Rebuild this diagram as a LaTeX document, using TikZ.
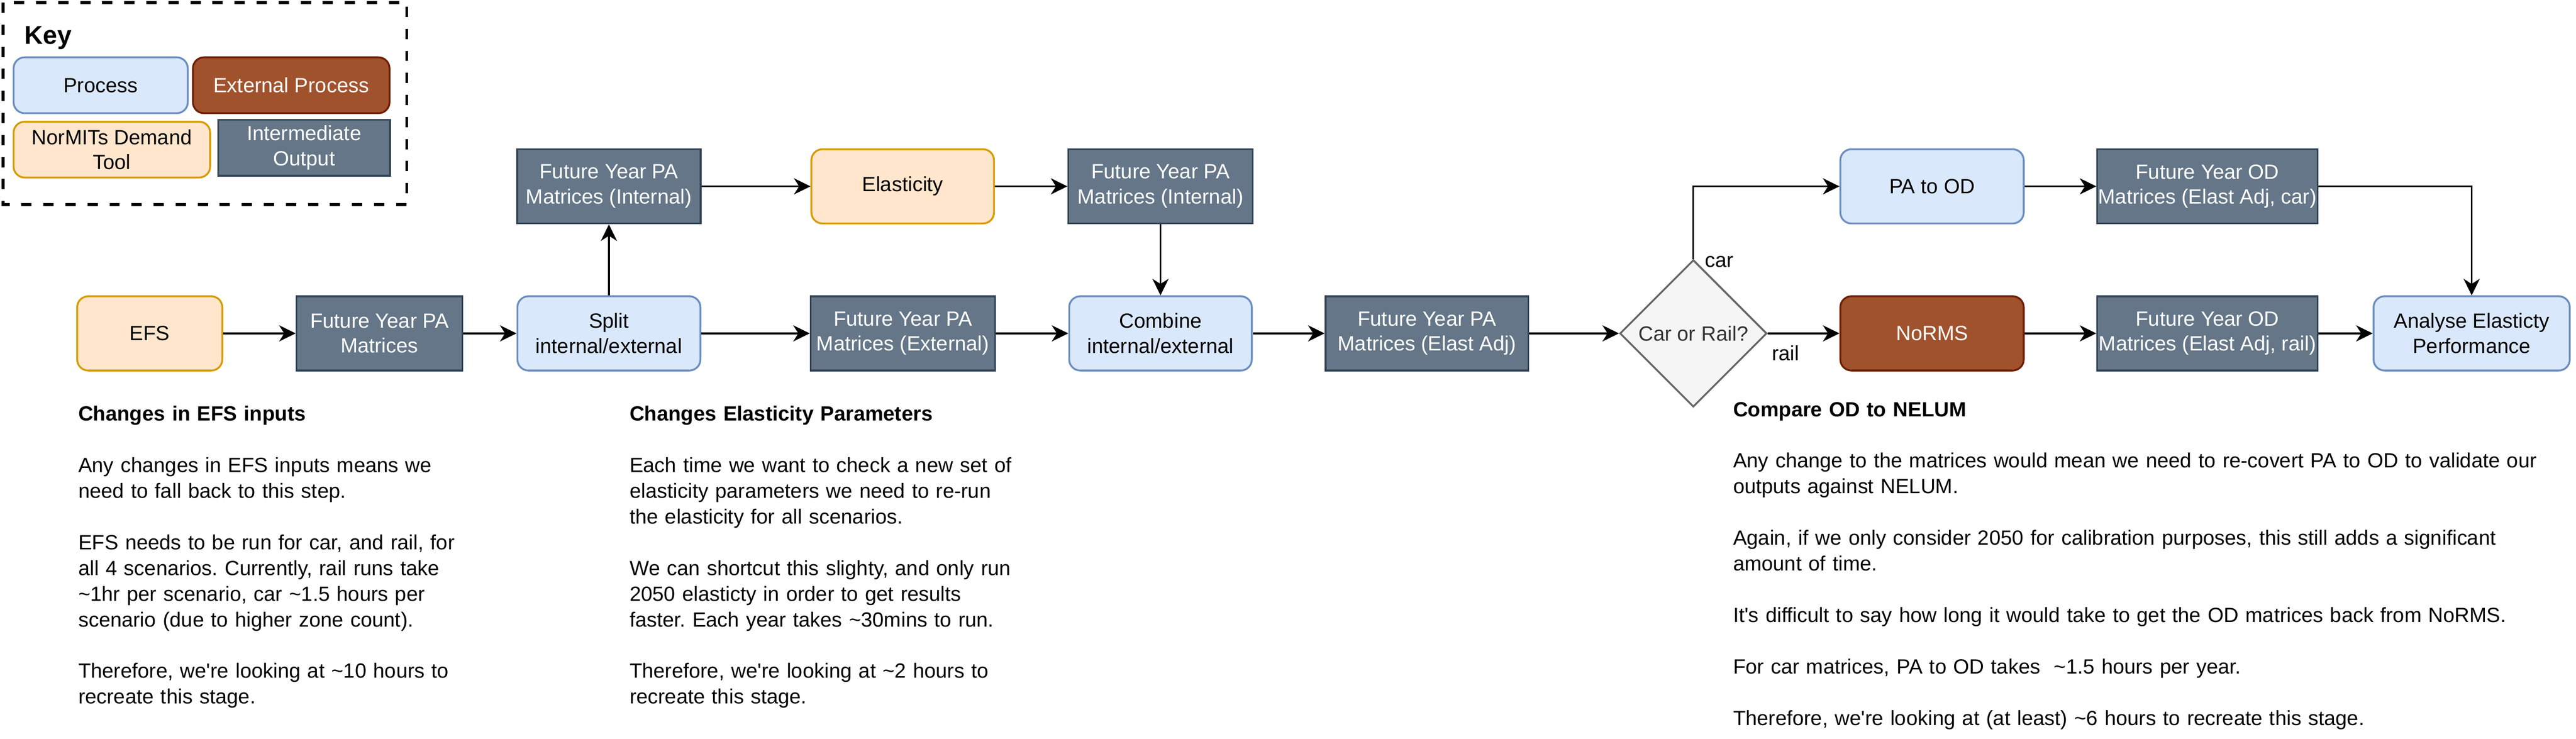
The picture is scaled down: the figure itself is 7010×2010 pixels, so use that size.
\documentclass[tikz,border=0pt]{standalone}
\usepackage{fontspec}
\setmainfont{Liberation Sans}
\usetikzlibrary{arrows.meta,shapes.geometric}
\frenchspacing

\definecolor{procfill}{HTML}{DAE8FC}
\definecolor{procdraw}{HTML}{6C8EBF}
\definecolor{toolfill}{HTML}{FFE6CC}
\definecolor{tooldraw}{HTML}{D79B00}
\definecolor{extfill}{HTML}{A0522D}
\definecolor{extdraw}{HTML}{6D1F00}
\definecolor{outfill}{HTML}{647687}
\definecolor{outdraw}{HTML}{314354}
\definecolor{decfill}{HTML}{F5F5F5}
\definecolor{decdraw}{HTML}{666666}
\definecolor{dectext}{HTML}{333333}

\newcommand\diagfont{\fontsize{5.6pt}{6.8pt}\selectfont}
\newcommand\notefont{\fontsize{5.6pt}{7pt}\selectfont}

\tikzset{every picture/.style={line width=0.45pt}}
\tikzset{
  basebox/.style={minimum height=20.2pt, inner sep=0pt, align=center, font=\diagfont, line width=0.5pt},
  procbox/.style={basebox, rounded corners=3pt, fill=procfill, draw=procdraw},
  toolbox/.style={basebox, rounded corners=3pt, fill=toolfill, draw=tooldraw},
  extbox/.style={basebox, rounded corners=3pt, fill=extfill, draw=extdraw, text=white},
  outbox/.style={basebox, fill=outfill, draw=outdraw, text=white},
  keysize/.style={minimum height=15.2pt},
  decbox/.style={diamond, aspect=1, minimum width=40pt, minimum height=40pt, inner sep=0pt, fill=decfill, draw=decdraw, text=dectext, font=\diagfont, line width=0.5pt},
  flow/.style={-{Stealth[length=4.5pt,width=4.4pt,inset=1.4pt]}, line width=0.45pt},
  edgelbl/.style={inner sep=0pt, font=\diagfont},
  notetext/.style={anchor=base west, inner sep=0pt, align=left, font=\notefont}
}

\begin{document}
\begin{tikzpicture}[x=0.1pt,y=0.1pt,yscale=-1,xscale=1]
\path[use as bounding box] (0,0) rectangle (7010,2010);

%Shape: Key frame
\draw[line width=0.8pt, dash pattern=on 2.8pt off 3.2pt] (8,7) rectangle (1107,557);
\node[inner sep=0pt, anchor=base west, font=\bfseries\fontsize{7pt}{8pt}\selectfont] (keytitle) at (64,120) {Key};
%Shape: Key entries
\node[procbox, keysize, minimum width=47.4pt] (kproc) at (274,232) {Process};
\node[extbox, keysize, minimum width=53.5pt] (kext) at (792.5,232) {External Process};
\node[toolbox, keysize, minimum width=53.5pt] (ktool) at (304.5,407) {NorMITs Demand\\Tool};
\node[outbox, keysize, minimum width=46.7pt] (kout) at (827.5,402) {Intermediate\\Output};

%Shape: Flow boxes
\node[toolbox, minimum width=39.5pt] (efs) at (407.5,907) {EFS};
\node[outbox, minimum width=45.1pt] (fypa) at (1032.5,907) {Future Year PA\\Matrices};
\node[procbox, minimum width=49.8pt] (split) at (1657,907) {Split\\internal/external};
\node[outbox, minimum width=49.9pt] (fypaint) at (1657,507) {Future Year PA\\Matrices (Internal)};
\node[toolbox, minimum width=49.7pt] (elast) at (2456.5,507) {Elasticity};
\node[outbox, minimum width=50.2pt] (fypaintb) at (3158,507) {Future Year PA\\Matrices (Internal)};
\node[outbox, minimum width=50.2pt] (fypaext) at (2457,907) {Future Year PA\\Matrices (External)};
\node[procbox, minimum width=49.7pt] (combine) at (3158,907) {Combine\\internal/external};
\node[outbox, minimum width=55.2pt] (fypaadj) at (3883,907) {Future Year PA\\Matrices (Elast Adj)};
\node[decbox] (choice) at (4608,907) {Car or Rail?};
\node[procbox, minimum width=49.9pt] (patood) at (5257.5,507) {PA to OD};
\node[outbox, minimum width=60pt] (fyodcar) at (6007,507) {Future Year OD\\Matrices (Elast Adj, car)};
\node[extbox, minimum width=49.9pt] (norms) at (5257.5,907) {NoRMS};
\node[outbox, minimum width=60pt] (fyodrail) at (6007,907) {Future Year OD\\Matrices (Elast Adj, rail)};
\node[procbox, minimum width=53.4pt] (analyse) at (6726,907) {Analyse Elasticty\\Performance};

%Straight Lines
\draw[flow] (efs) -- (fypa);
\draw[flow] (fypa) -- (split);
\draw[flow] (split) -- (fypaint);
\draw[flow] (split) -- (fypaext);
\draw[flow] (fypaint) -- (elast);
\draw[flow] (elast) -- (fypaintb);
\draw[flow] (fypaintb) -- (combine);
\draw[flow] (fypaext) -- (combine);
\draw[flow] (combine) -- (fypaadj);
\draw[flow] (fypaadj) -- (choice);
\draw[flow] (choice.north) |- (patood);
\draw[flow] (choice) -- (norms);
\draw[flow] (patood) -- (fyodcar);
\draw[flow] (norms) -- (fyodrail);
\draw[flow] (fyodrail) -- (analyse);
\draw[flow] (fyodcar) -| (analyse);
\node[edgelbl, anchor=base west] (carlbl) at ([xshift=3pt,yshift=2.3pt]choice.north) {car};
\node[edgelbl, anchor=base west] (raillbl) at ([xshift=0.9pt,yshift=7.3pt]choice.east) {rail};

%Text: notes
\node[notetext, text width=120pt] (efsnote) at (211,1145) {\textbf{Changes in EFS inputs}\\[7pt]
Any changes in EFS inputs means we\\
need to fall back to this step.\\[7pt]
EFS needs to be run for car, and rail, for\\
all 4 scenarios. Currently, rail runs take\\
\textasciitilde1hr per scenario, car \textasciitilde1.5 hours per\\
scenario (due to higher zone count).\\[7pt]
Therefore, we\textquotesingle re looking at \textasciitilde10 hours to\\
recreate this stage.};
\node[notetext, text width=120pt] (elastnote) at (1711,1145) {\textbf{Changes Elasticity Parameters}\\[7pt]
Each time we want to check a new set of\\
elasticity parameters we need to re-run\\
the elasticity for all scenarios.\\[7pt]
We can shortcut this slighty, and only run\\
2050 elasticty in order to get results\\
faster. Each year takes \textasciitilde30mins to run.\\[7pt]
Therefore, we\textquotesingle re looking at \textasciitilde2 hours to\\
recreate this stage.};
\node[notetext, text width=235pt] (odnote) at (4714,1133) {\textbf{Compare OD to NELUM}\\[7pt]
Any change to the matrices would mean we need to re-covert PA to OD to validate our\\
outputs against NELUM.\\[7pt]
Again, if we only consider 2050 for calibration purposes, this still adds a significant\\
amount of time.\\[7pt]
It\textquotesingle s difficult to say how long it would take to get the OD matrices back from NoRMS.\\[7pt]
For car matrices, PA to OD takes\ \ \textasciitilde1.5 hours per year.\\[7pt]
Therefore, we\textquotesingle re looking at (at least) \textasciitilde6 hours to recreate this stage.};

\end{tikzpicture}
\end{document}
